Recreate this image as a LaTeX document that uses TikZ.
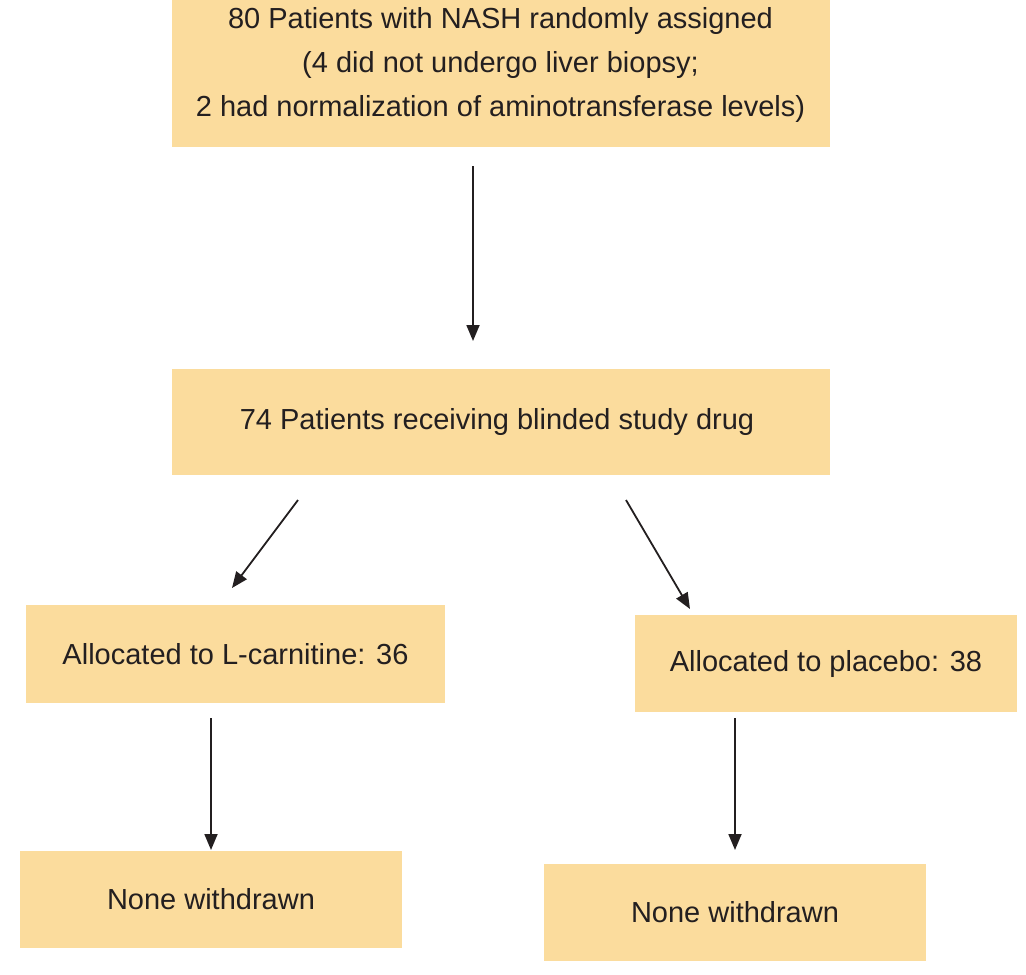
\documentclass[tikz,border=0pt]{standalone}
\usepackage{fontspec}
\setmainfont{Liberation Sans}
\usetikzlibrary{arrows.meta}
\definecolor{boxfill}{HTML}{FBDC9D}
\definecolor{ink}{HTML}{231F20}
\tikzset{
  flowbox/.style={rectangle, fill=boxfill, draw=none, inner sep=0pt, align=center,
    text=ink, font=\fontsize{29}{44}\selectfont},
  flowtext/.style={inner sep=0pt, align=center, text=ink, font=\fontsize{29}{44}\selectfont},
  flowarrow/.style={draw=ink, line width=1.8pt, -{Triangle[length=16pt,width=13pt]}}
}
\begin{document}
\begin{tikzpicture}[x=1pt, y=-1pt]
  \useasboundingbox (0,0) rectangle (1026,975);

  % boxes
  \node[flowbox, minimum width=658, minimum height=147] (assigned) at (501,73.5) {};
  \node[flowtext] (assignedtext) at (500.5,65)
    {80 Patients with NASH randomly assigned\\(4 did not undergo liver biopsy;\\2 had normalization of aminotransferase levels)};
  \node[flowbox, minimum width=658, minimum height=106] (blinded) at (501,422) {};
  \node[flowtext] (blindedtext) at (497,422) {74 Patients receiving blinded study drug};
  \node[flowbox, minimum width=419, minimum height=98] (carnitine) at (235.5,654)
    {Allocated to L-carnitine: 36};
  \node[flowbox, minimum width=382, minimum height=97] (placebo) at (826,663.5)
    {Allocated to placebo: 38};
  \node[flowbox, minimum width=382, minimum height=97] (nonecarn) at (211,899.5)
    {None withdrawn};
  \node[flowbox, minimum width=382, minimum height=97] (noneplac) at (735,912.5)
    {None withdrawn};

  % arrow end points in the gaps between boxes
  \coordinate (a1s) at (473,166);
  \coordinate (a1e) at (473,341);
  \coordinate (a2s) at (298,500);
  \coordinate (a2e) at (232,588);
  \coordinate (a3s) at (626,500);
  \coordinate (a3e) at (690,609);
  \coordinate (a4s) at (211,718);
  \coordinate (a4e) at (211,850);
  \coordinate (a5s) at (735,718);
  \coordinate (a5e) at (735,850);

  % connectors
  \draw[flowarrow] (a1s) -- (a1e);
  \draw[flowarrow] (a2s) -- (a2e);
  \draw[flowarrow] (a3s) -- (a3e);
  \draw[flowarrow] (a4s) -- (a4e);
  \draw[flowarrow] (a5s) -- (a5e);
\end{tikzpicture}
\end{document}
